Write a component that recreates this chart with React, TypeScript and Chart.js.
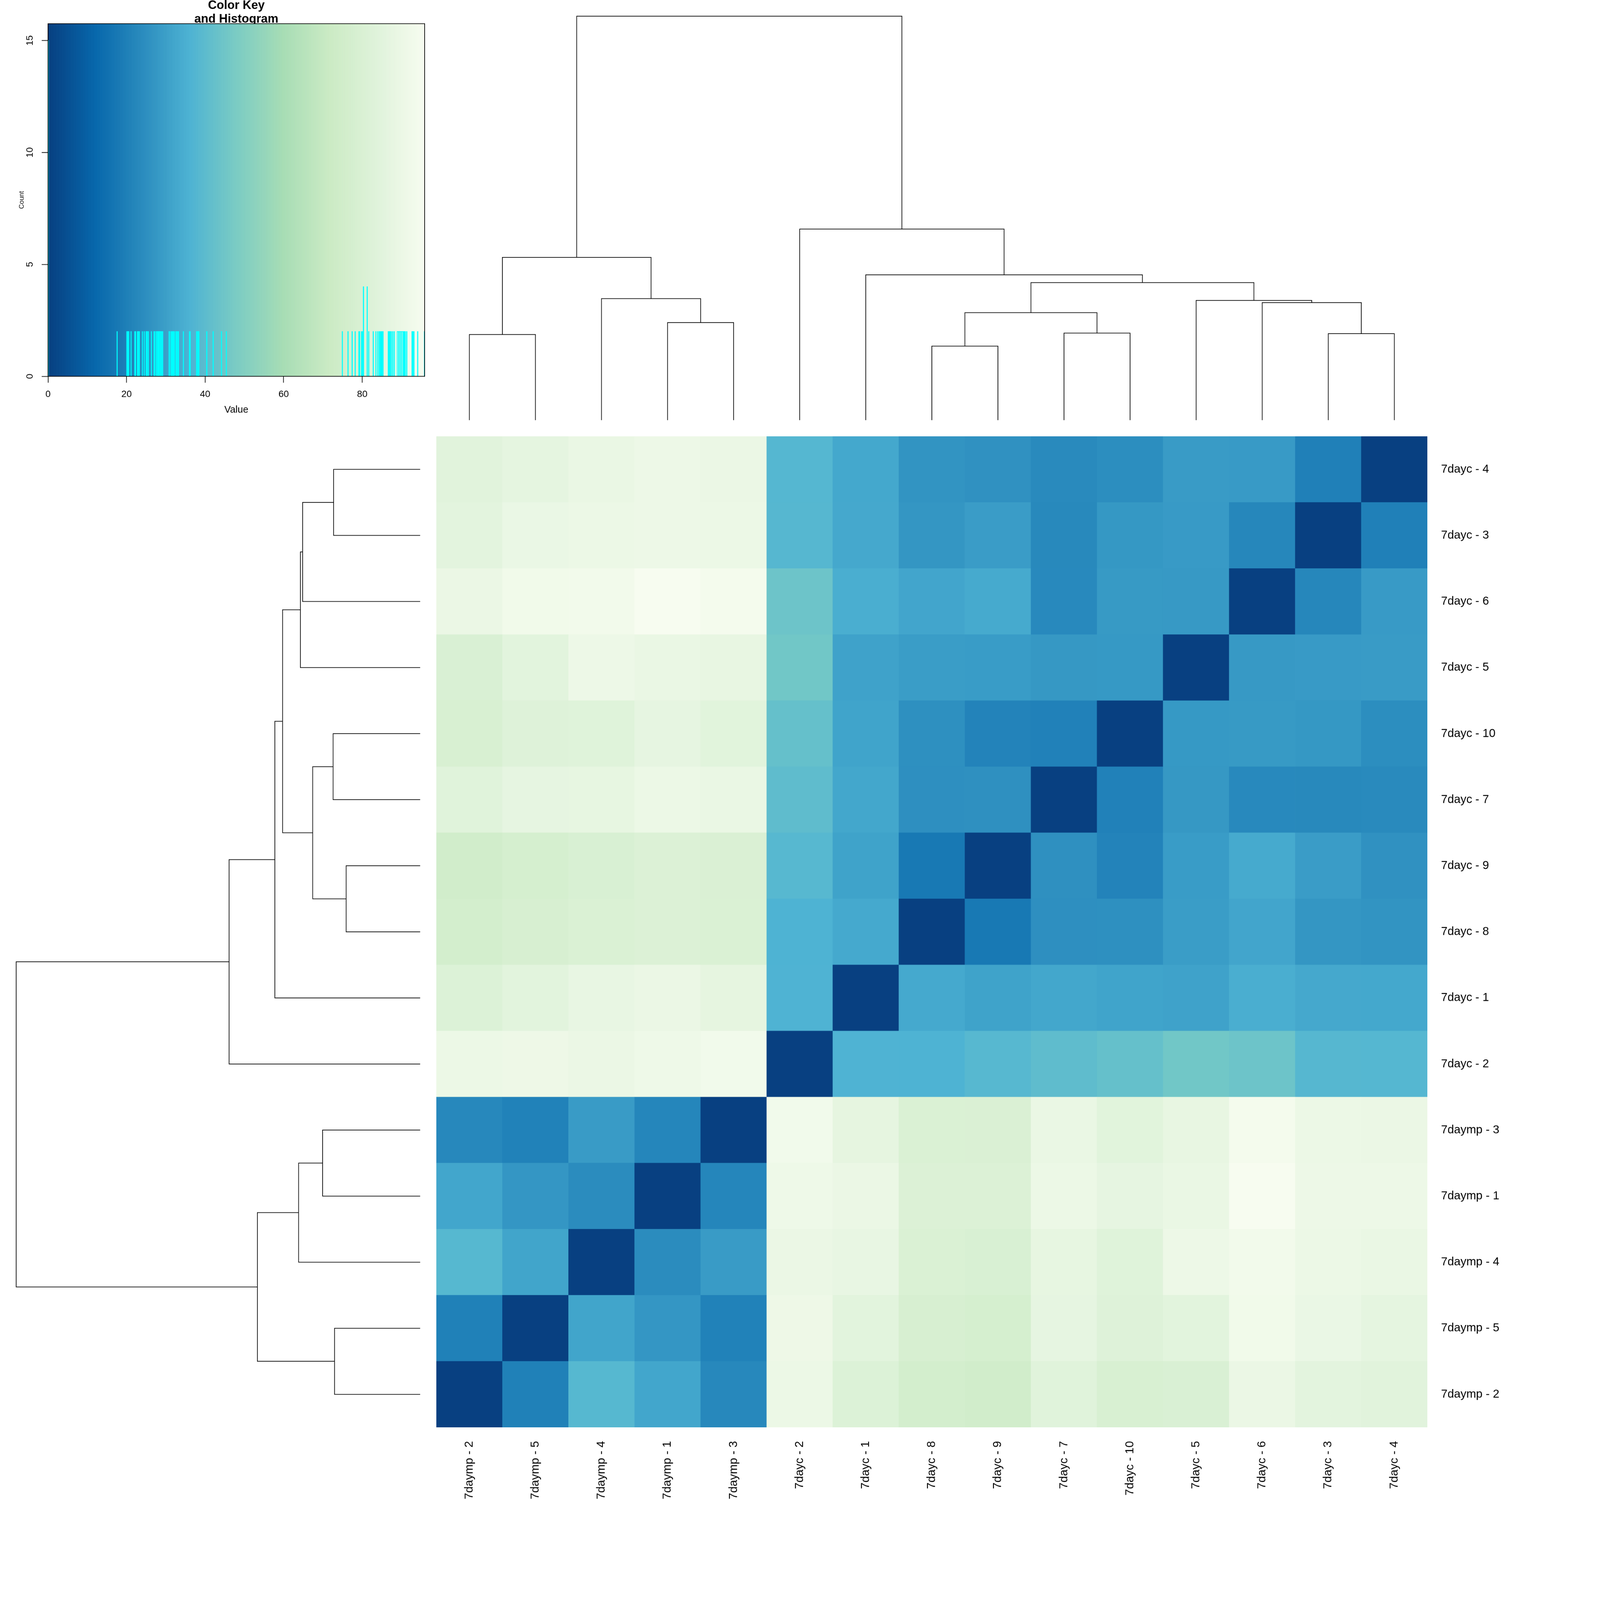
import React, { useEffect, useRef } from "react";
import { Chart, registerables } from "chart.js";

Chart.register(...registerables);

const FONT = "'Liberation Sans', Arial, Helvetica, sans-serif";
Chart.defaults.font.family = FONT;
Chart.defaults.color = "#000";

// leaf order (left->right columns, bottom->top rows)
const leafLabels = [
  "7daymp - 2", "7daymp - 5", "7daymp - 4", "7daymp - 1", "7daymp - 3",
  "7dayc - 2", "7dayc - 1", "7dayc - 8", "7dayc - 9", "7dayc - 7",
  "7dayc - 10", "7dayc - 5", "7dayc - 6", "7dayc - 3", "7dayc - 4",
];

// matrix rows, columns in the same leaf order
const rowMp2 = [0, 20.3, 38.25, 32.0, 22.8, 90.33, 81.65, 76.4, 74.9, 84.0, 79.2, 79.8, 89.55, 85.3, 84.35];
const rowMp5 = [20.3, 0, 31.6, 27.15, 20.6, 91.0, 84.8, 78.2, 77.4, 87.0, 82.8, 85.0, 92.65, 89.29, 86.6];
const rowMp4 = [38.25, 31.6, 0, 24.0, 28.75, 89.68, 88.2, 80.3, 79.4, 87.4, 83.5, 90.46, 93.15, 89.94, 89.03];
const rowMp1 = [32.0, 27.15, 24.0, 0, 22.1, 91.3, 89.42, 81.3, 81.3, 90.07, 87.15, 89.16, 95.9, 90.75, 90.59];
const rowMp3 = [22.8, 20.6, 28.75, 22.1, 0, 92.9, 86.85, 80.3, 80.0, 88.9, 84.65, 87.75, 94.1, 90.2, 89.81];
const rowC2 = [90.33, 91.0, 89.68, 91.3, 92.9, 0, 36.2, 36.0, 38.4, 40.4, 42.1, 45.4, 44.2, 38.1, 37.8];
const rowC1 = [81.65, 84.8, 88.2, 89.42, 86.85, 36.2, 0, 33.0, 30.95, 32.15, 31.3, 30.8, 34.5, 32.75, 32.6];
const rowC8 = [76.4, 78.2, 80.3, 81.3, 80.3, 36.0, 33.0, 0, 17.6, 25.0, 25.15, 29.2, 31.75, 27.0, 26.3];
const rowC9 = [74.9, 77.4, 79.4, 81.3, 80.0, 38.4, 30.95, 17.6, 0, 25.3, 21.1, 28.9, 33.2, 29.05, 25.6];
const rowC7 = [84.0, 87.0, 87.4, 90.07, 88.9, 40.4, 32.15, 25.0, 25.3, 0, 20.45, 27.7, 23.1, 22.95, 23.3];
const rowC10 = [79.2, 82.8, 83.5, 87.15, 84.65, 42.1, 31.3, 25.15, 21.1, 20.45, 0, 27.85, 28.15, 27.55, 24.5];
const rowC5 = [79.8, 85.0, 90.46, 89.16, 87.75, 45.4, 30.8, 29.2, 28.9, 27.7, 27.85, 0, 28.0, 28.3, 28.6];
const rowC6 = [89.55, 92.65, 93.15, 95.9, 94.1, 44.2, 34.5, 31.75, 33.2, 23.1, 28.15, 28.0, 0, 22.25, 28.45];
const rowC3 = [85.3, 89.29, 89.94, 90.75, 90.2, 38.1, 32.75, 27.0, 29.05, 22.95, 27.55, 28.3, 22.25, 0, 20.1];
const rowC4 = [84.35, 86.6, 89.03, 90.59, 89.81, 37.8, 32.6, 26.3, 25.6, 23.3, 24.5, 28.6, 28.45, 20.1, 0];

const valueRows = [rowMp2, rowMp5, rowMp4, rowMp1, rowMp3, rowC2, rowC1, rowC8, rowC9, rowC7, rowC10, rowC5, rowC6, rowC3, rowC4];

// dendrogram merges: >=0 leaf index, negative = -(merge index + 1)
const mergeLeft = [0, 3, 2, -1, 7, 9, -5, 13, 12, 11, -7, 6, 5, -4];
const mergeRight = [1, 4, -2, -3, 8, 10, -6, 14, -8, -9, -10, -11, -12, -13];
const mergeHeight = [21.2, 24.15, 30.1, 40.3, 18.33, 21.55, 26.6, 21.42, 29.1, 29.65, 34.06, 35.97, 47.29, 100];

const gnbuStops = ["#084081", "#0868ac", "#2b8cbe", "#4eb3d3", "#7bccc4", "#a8ddb5", "#ccebc5", "#e0f3db", "#f7fcf0"];
const paletteSize = 1000;

function hexToRgb(h: string) {
  const n = parseInt(h.slice(1), 16);
  return [(n >> 16) & 255, (n >> 8) & 255, n & 255];
}

function buildPalette(n: number) {
  const stops = gnbuStops.map(hexToRgb);
  const out: string[] = [];
  for (let i = 0; i < n; i++) {
    const t = (i / (n - 1)) * (stops.length - 1);
    const k = Math.min(stops.length - 2, Math.floor(t));
    const f = t - k;
    const c = stops[k].map((v, j) => Math.round(v + (stops[k + 1][j] - v) * f));
    out.push(`rgb(${c[0]},${c[1]},${c[2]})`);
  }
  return out;
}

function dendroSegments() {
  const pos: number[] = [];
  const hgt: number[] = [];
  const segs: number[][][] = [];
  const child = (c: number) => (c >= 0 ? { p: c, h: 0 } : { p: pos[-c - 1], h: hgt[-c - 1] });
  for (let k = 0; k < mergeHeight.length; k++) {
    const L = child(mergeLeft[k]);
    const R = child(mergeRight[k]);
    const h = mergeHeight[k];
    pos[k] = (L.p + R.p) / 2;
    hgt[k] = h;
    segs.push([[L.p, L.h], [L.p, h], [R.p, h], [R.p, R.h]]);
  }
  return segs;
}

const PAGE = 4800;
const KEY = 1309;
const HM = 2973;
const MARGIN = 518;

export default function App() {
  const keyRef = useRef<HTMLCanvasElement>(null);
  const topRef = useRef<HTMLCanvasElement>(null);
  const leftRef = useRef<HTMLCanvasElement>(null);
  const hmRef = useRef<HTMLCanvasElement>(null);

  const vw = typeof window !== "undefined" && window.innerWidth > 0 ? window.innerWidth : PAGE;
  const S = Math.min(1, vw / PAGE);

  useEffect(() => {
    document.body.style.margin = "0";
    const palette = buildPalette(paletteSize);
    const allVals = valueRows.flat();
    const maxVal = Math.max(...allVals);
    const binW = maxVal / paletteSize;
    const breaks = Array.from({ length: paletteSize + 1 }, (_, i) => i * binW);
    const binOf = (v: number) => Math.min(paletteSize - 1, Math.max(0, Math.ceil(v / binW - 1e-9) - 1));
    const counts = new Array(paletteSize).fill(0);
    allVals.forEach((v) => counts[binOf(v)]++);
    const hy = [...counts, counts[counts.length - 1]];
    const maxCount = Math.max(...counts);
    const segs = dendroSegments();
    const hMax = Math.max(...mergeHeight);

    const charts: Chart[] = [];

    // ---------- heatmap ----------
    const hmDatasets = valueRows.map((row, r) => ({
      type: "bar" as const,
      data: row.map(() => [r, r + 1]),
      backgroundColor: row.map((v) => palette[binOf(v)]),
      borderWidth: 0,
      grouped: false,
      barPercentage: 1,
      categoryPercentage: 1,
    }));
    charts.push(
      new Chart(hmRef.current!, {
        type: "bar",
        data: { labels: leafLabels, datasets: hmDatasets as any },
        options: {
          responsive: false,
          animation: false,
          devicePixelRatio: 1,
          events: [],
          layout: { padding: 0 },
          plugins: { legend: { display: false }, tooltip: { enabled: false } },
          scales: {
            x: {
              type: "category",
              offset: true,
              afterFit: (s: any) => { s.height = MARGIN; s.paddingLeft = 0; s.paddingRight = 0; },
              grid: { display: false, drawTicks: false },
              border: { display: false },
              ticks: { autoSkip: false, minRotation: 90, maxRotation: 90, padding: 41, font: { size: 35, family: FONT }, color: "#000" },
            },
            y: {
              type: "linear",
              position: "right",
              min: 0,
              max: leafLabels.length,
              afterBuildTicks: (s: any) => { s.ticks = leafLabels.map((_, i) => ({ value: i + 0.5 })); },
              afterFit: (s: any) => { s.width = MARGIN; s.paddingTop = 0; s.paddingBottom = 0; },
              grid: { display: false, drawTicks: false },
              border: { display: false },
              ticks: {
                autoSkip: false,
                padding: 41,
                font: { size: 35, family: FONT },
                color: "#000",
                callback: (v: any) => leafLabels[Math.floor(Number(v))],
              },
            },
          },
        } as any,
      })
    );

    // ---------- dendrograms ----------
    const dendroDatasets = (horizontal: boolean) =>
      segs.map((s) => ({
        data: s.map(([p, h]) => (horizontal ? { x: p, y: h } : { x: h, y: p })),
        showLine: true,
        borderColor: "#000",
        borderWidth: 2,
        pointRadius: 0,
        fill: false,
        tension: 0,
        clip: false as any,
      }));
    const baseOpts = {
      responsive: false,
      animation: false,
      devicePixelRatio: 1,
      events: [],
      layout: { padding: 0 },
      plugins: { legend: { display: false }, tooltip: { enabled: false } },
    };
    charts.push(
      new Chart(topRef.current!, {
        type: "scatter",
        data: { datasets: dendroDatasets(true) as any },
        options: {
          ...baseOpts,
          scales: {
            x: { type: "linear", display: false, min: -0.5, max: leafLabels.length - 0.5 },
            y: { type: "linear", display: false, min: -0.04 * hMax, max: 1.04 * hMax },
          },
        } as any,
      })
    );
    charts.push(
      new Chart(leftRef.current!, {
        type: "scatter",
        data: { datasets: dendroDatasets(false) as any },
        options: {
          ...baseOpts,
          scales: {
            x: { type: "linear", display: false, reverse: true, min: -0.04 * hMax, max: 1.04 * hMax },
            y: { type: "linear", display: false, min: -0.5, max: leafLabels.length - 0.5 },
          },
        } as any,
      })
    );

    // ---------- color key ----------
    const keyGradient = {
      id: "keyGradient",
      beforeDatasetsDraw(chart: any) {
        const { ctx, chartArea: a, scales } = chart;
        const x = scales.x;
        ctx.save();
        ctx.beginPath();
        ctx.rect(a.left, a.top, a.right - a.left, a.bottom - a.top);
        ctx.clip();
        for (let i = 0; i < paletteSize; i++) {
          const x0 = x.getPixelForValue(breaks[i]);
          const x1 = x.getPixelForValue(breaks[i + 1]);
          ctx.fillStyle = palette[i];
          ctx.fillRect(x0, a.top, x1 - x0 + 0.8, a.bottom - a.top);
        }
        ctx.restore();
      },
    };
    const keyBox = {
      id: "keyBox",
      afterDraw(chart: any) {
        const { ctx, chartArea: a } = chart;
        ctx.save();
        ctx.strokeStyle = "#000";
        ctx.lineWidth = 2;
        ctx.strokeRect(a.left, a.top, a.right - a.left, a.bottom - a.top);
        ctx.restore();
      },
    };
    const tickGrid = { display: true, drawOnChartArea: false, drawTicks: true, tickLength: 19, tickColor: "#000", tickWidth: 2 };
    charts.push(
      new Chart(keyRef.current!, {
        type: "scatter",
        data: {
          datasets: [
            {
              data: breaks.map((b, i) => ({ x: b, y: hy[i] })),
              showLine: true,
              stepped: true,
              borderColor: "#00ffff",
              borderWidth: 2,
              pointRadius: 0,
              fill: false,
            },
          ],
        } as any,
        options: {
          responsive: false,
          animation: false,
          devicePixelRatio: 1,
          events: [],
          layout: { padding: { left: 0, right: 35, top: 0, bottom: 0 } },
          plugins: {
            legend: { display: false },
            tooltip: { enabled: false },
            title: {
              display: true,
              fullSize: false,
              text: ["Color Key", "and Histogram"],
              color: "#000",
              font: { size: 36, weight: "bold", family: FONT, lineHeight: 41.4 / 36 },
              padding: { top: -4, bottom: -7.8 },
            },
          },
          scales: {
            x: {
              type: "linear",
              min: 0,
              max: maxVal,
              afterFit: (s: any) => { s.height = 180; },
              grid: tickGrid,
              border: { display: false },
              ticks: { stepSize: 20, includeBounds: false, maxRotation: 0, padding: 18, font: { size: 28, family: FONT }, color: "#000" },
              title: { display: true, text: "Value", color: "#000", font: { size: 29, family: FONT }, padding: { top: 0, bottom: 62 } },
            },
            y: {
              type: "linear",
              min: 0,
              max: maxCount * 1.05,
              afterFit: (s: any) => { s.width = 144; },
              grid: tickGrid,
              border: { display: false },
              ticks: { stepSize: 5, includeBounds: false, minRotation: 90, maxRotation: 90, crossAlign: "center", padding: 19, font: { size: 28, family: FONT }, color: "#000" },
              title: { display: true, text: "Count", color: "#000", font: { size: 20, family: FONT }, padding: { top: 53, bottom: 0 } },
            },
          },
        } as any,
        plugins: [keyGradient, keyBox],
      })
    );

    return () => charts.forEach((c) => c.destroy());
  }, []);

  const place = (left: number, top: number, w: number, h: number): React.CSSProperties => ({
    position: "absolute",
    left: left * S,
    top: top * S,
    width: w * S,
    height: h * S,
    display: "block",
  });

  return (
    <div style={{ position: "absolute", left: 0, top: 0, width: PAGE * S, height: PAGE * S, background: "#fff", overflow: "hidden" }}>
      <canvas ref={keyRef} width={KEY} height={KEY} style={place(0, 0, KEY, KEY)} />
      <canvas ref={topRef} width={HM} height={KEY} style={place(KEY, 0, HM, KEY)} />
      <canvas ref={leftRef} width={KEY} height={HM} style={place(0, KEY, KEY, HM)} />
      <canvas ref={hmRef} width={HM + MARGIN} height={HM + MARGIN} style={place(KEY, KEY, HM + MARGIN, HM + MARGIN)} />
    </div>
  );
}
